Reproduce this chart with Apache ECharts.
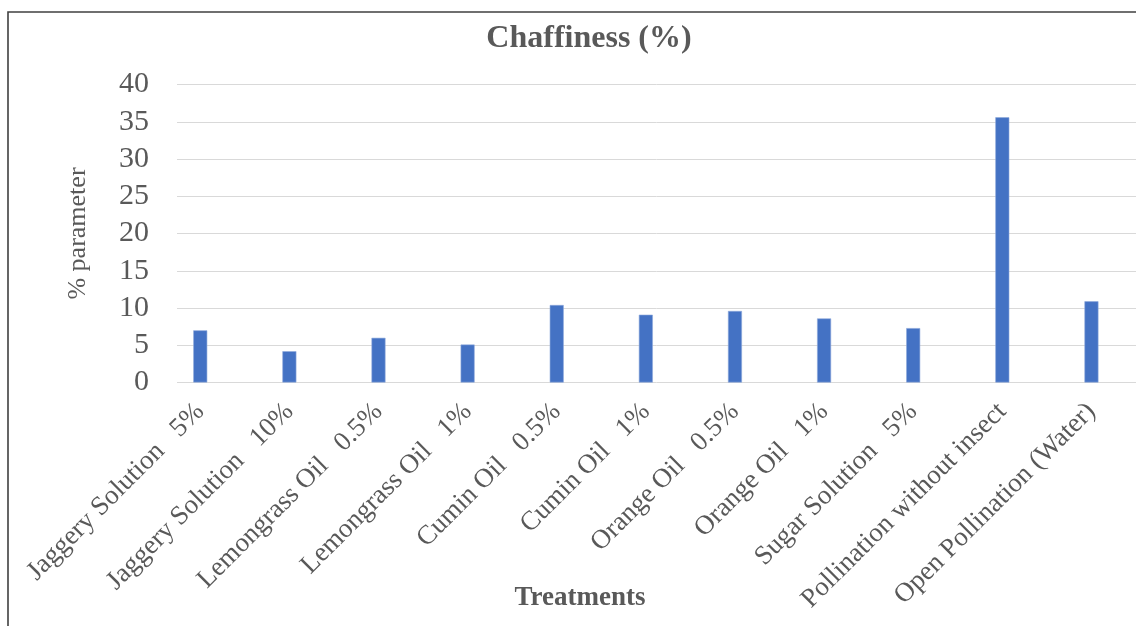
<!DOCTYPE html>
<html>
<head>
<meta charset="utf-8">
<style>
  html, body { margin: 0; padding: 0; background: #ffffff; }
  #chart { width: 1136px; height: 626px; }
</style>
<script src="https://cdn.jsdelivr.net/npm/echarts@6/dist/echarts.min.js"></script>
</head>
<body>
<div id="chart"></div>
<script>
// Treatments and their chaffiness values (%)
const categories = [
  'Jaggery Solution   5%',
  'Jaggery Solution   10%',
  'Lemongrass Oil   0.5%',
  'Lemongrass Oil   1%',
  'Cumin Oil   0.5%',
  'Cumin Oil   1%',
  'Orange Oil   0.5%',
  'Orange Oil   1%',
  'Sugar Solution   5%',
  'Pollination without insect',
  'Open Pollination (Water)'
];
const chaffiness = [7.0, 4.2, 6.0, 5.1, 10.4, 9.1, 9.6, 8.6, 7.3, 35.6, 10.9];
const yMin = 0;
const yMax = 40;
const yStep = 5;

const chartTitle = 'Chaffiness (%)';
const xTitle = 'Treatments';
const yTitle = '% parameter';

const serif = '"Liberation Serif", "Times New Roman", serif';
const textColor = '#595959';

const chart = echarts.init(document.getElementById('chart'), null, { renderer: 'canvas' });

chart.setOption({
  animation: false,
  backgroundColor: '#ffffff',
  grid: [
    // gridlines and value labels
    { left: 177, right: -4, top: 84.5, bottom: 243.5, containLabel: false },
    // bars and category labels
    { left: 155.7, width: 982.3, top: 84.5, bottom: 243.5, containLabel: false }
  ],
  xAxis: [
    { gridIndex: 0, type: 'value', show: false, min: 0, max: 1 },
    {
      gridIndex: 1,
      type: 'category',
      data: categories,
      axisLine: { show: false },
      axisTick: { show: false },
      axisLabel: {
        interval: 0,
        rotate: 45,
        margin: 25,
        fontFamily: serif,
        fontSize: 27,
        color: textColor
      }
    }
  ],
  yAxis: [
    {
      gridIndex: 0,
      type: 'value',
      min: yMin,
      max: yMax,
      interval: yStep,
      name: yTitle,
      nameLocation: 'middle',
      nameGap: 86,
      nameRotate: 90,
      nameTextStyle: { fontFamily: serif, fontSize: 26, color: textColor },
      axisLine: { show: false },
      axisTick: { show: false },
      axisLabel: { margin: 28, fontFamily: serif, fontSize: 30, color: textColor },
      splitLine: { show: true, lineStyle: { color: '#d9d9d9', width: 1 } }
    },
    {
      gridIndex: 1,
      type: 'value',
      min: yMin,
      max: yMax,
      interval: yStep,
      show: false
    }
  ],
  series: [
    {
      type: 'bar',
      xAxisIndex: 1,
      yAxisIndex: 1,
      data: chaffiness,
      barWidth: 14,
      itemStyle: { color: '#4472c4', borderColor: '#8fa9dc', borderWidth: 0.6 }
    }
  ],
  graphic: [
    {
      type: 'rect',
      silent: true,
      shape: { x: 8, y: 12, width: 1300, height: 800 },
      style: { fill: 'none', stroke: '#404040', lineWidth: 1.6 }
    },
    {
      type: 'text',
      silent: true,
      style: {
        x: 589, y: 39,
        text: chartTitle,
        textAlign: 'center',
        textVerticalAlign: 'middle',
        font: 'bold 32px ' + serif,
        fill: textColor
      }
    },
    {
      type: 'text',
      silent: true,
      style: {
        x: 580, y: 598,
        text: xTitle,
        textAlign: 'center',
        textVerticalAlign: 'middle',
        font: 'bold 27px ' + serif,
        fill: textColor
      }
    }
  ]
});
</script>
</body>
</html>
